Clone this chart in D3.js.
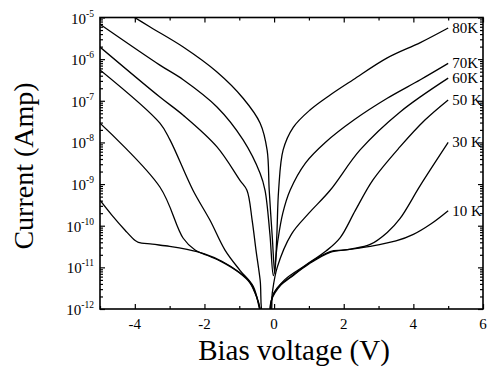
<html>
<head>
<style>
  body { margin: 0; background: #fff; }
  text { font-family: "Liberation Serif", "Times New Roman", serif; fill: #000; }
</style>
</head>
<body>
<svg id="chart"></svg>
<script src="https://cdn.jsdelivr.net/npm/d3@7"></script>
<script>

// bias voltage (V) and current (A) for each temperature
let v80 = [-4.2, -3.56, -2.61, -1.64, -0.89, -0.40, -0.20, -0.14, -0.05, 0.02, 0.08, 0.13, 0.26, 0.55, 1.03, 1.61, 2.27, 3.25, 4.2, 5.0];
let i80 = [1.26e-5, 5.9e-6, 1.95e-6, 4.9e-7, 1.15e-7, 2.9e-8, 6.5e-9, 7.1e-10, 5.0e-11, 7.1e-12, 6.3e-11, 7.1e-10, 6.6e-9, 2.3e-8, 6.0e-8, 1.38e-7, 3.2e-7, 1.07e-6, 2.5e-6, 5.6e-6];

let v70 = [-5.0, -3.28, -2.61, -1.64, -0.89, -0.40, -0.26, -0.12, -0.02, 0.10, 0.25, 0.46, 0.9, 1.47, 2.3, 3.25, 4.2, 5.0];
let i70 = [6.9e-6, 7.2e-7, 3.2e-7, 7.1e-8, 1.15e-8, 1.8e-9, 7.1e-10, 6.3e-11, 6.3e-12, 4.0e-11, 2.0e-10, 7.1e-10, 3.2e-9, 1.0e-8, 3.5e-8, 1.15e-7, 3.2e-7, 7.9e-7];

let v60 = [-5.0, -3.28, -2.61, -1.64, -0.98, -0.78, -0.63, -0.52, -0.40, -0.30, -0.12, -0.05, 0.09, 0.5, 1.0, 1.61, 2.47, 3.62, 5.0];
let i60 = [1.95e-6, 1.23e-7, 4.5e-8, 7.8e-9, 1.23e-9, 7.1e-10, 1.35e-10, 2.6e-11, 4.9e-12, 6.3e-13, 6.3e-13, 2.5e-12, 1.0e-11, 6.3e-11, 2.0e-10, 7.1e-10, 6.6e-9, 5.4e-8, 3.5e-7];

let v50 = [-5.0, -3.28, -2.99, -2.33, -1.84, -1.41, -0.98, -0.6, -0.42, -0.32, -0.15, -0.05, 0.3, 0.9, 1.5, 1.9, 2.33, 2.84, 3.62, 4.34, 5.0];
let i50 = [5.5e-7, 2.9e-8, 1.15e-8, 7.1e-10, 1.35e-10, 2.6e-11, 8.5e-12, 3.5e-12, 1.0e-12, 4.0e-13, 4.0e-13, 2.0e-12, 5.0e-12, 1.12e-11, 2.5e-11, 5.2e-11, 2.3e-10, 1.26e-9, 7.9e-9, 3.5e-8, 1.05e-7];

let v30 = [-5.0, -3.28, -2.61, -2.27, -1.93, -1.5, -1.0, -0.7, -0.5, -0.38, -0.32, -0.17, -0.08, 0.2, 0.46, 1.0, 1.61, 2.2, 2.76, 3.25, 3.62, 4.2, 5.0];
let i30 = [2.9e-8, 8.5e-10, 5.0e-11, 2.6e-11, 1.95e-11, 1.35e-11, 7.4e-12, 4.3e-12, 1.9e-12, 7.9e-13, 3.2e-13, 4.0e-13, 1.6e-12, 3.8e-12, 5.6e-12, 1.2e-11, 2.3e-11, 2.75e-11, 3.55e-11, 6.9e-11, 1.5e-10, 9.3e-10, 1.0e-8];

let v10 = [-5.0, -4.66, -4.28, -3.99, -3.9, -3.5, -3.0, -2.5, -2.0, -1.5, -1.0, -0.7, -0.5, -0.4, -0.34, -0.16, -0.1, 0.0, 0.2, 0.46, 1.0, 1.61, 2.0, 2.76, 3.5, 4.0, 4.5, 5.0];
let i10 = [4.1e-10, 1.8e-10, 7.8e-11, 4.4e-11, 4.0e-11, 3.6e-11, 3.2e-11, 2.7e-11, 2.1e-11, 1.4e-11, 7.6e-12, 4.5e-12, 2.0e-12, 1.0e-12, 4.0e-13, 4.0e-13, 1.26e-12, 2.5e-12, 4.0e-12, 5.8e-12, 1.26e-11, 2.4e-11, 2.6e-11, 3.2e-11, 4.3e-11, 6.2e-11, 1.1e-10, 2.3e-10];

let curveNames = ["80K", "70K", "60K", "50 K", "30 K", "10 K"];
let curveV = [v80, v70, v60, v50, v30, v10];
let curveI = [i80, i70, i60, i50, i30, i10];

let xTicks = [-4, -2, 0, 2, 4, 6];
let xMinor = [-5, -3, -1, 1, 3, 5];
let yExponents = [-12, -11, -10, -9, -8, -7, -6, -5];

let width = 488, height = 368;
let pLeft = 100, pRight = 483, pTop = 17.5, pBottom = 309;

let svg = d3.select("#chart")
            .attr("width", width)
            .attr("height", height);

let x = d3.scaleLinear().domain([-5, 6]).range([pLeft, pRight]);
let y = d3.scaleLog().domain([1e-12, 1e-5]).range([pBottom, pTop]);

svg.append("clipPath").attr("id", "plot")
    .append("rect")
    .attr("x", pLeft).attr("y", pTop)
    .attr("width", pRight - pLeft).attr("height", pBottom - pTop);

let line = d3.line()
            .x(d => x(d[0]))
            .y(d => y(d[1]))
            .curve(d3.curveCatmullRom.alpha(0.5));

let g = svg.append("g").attr("clip-path", "url(#plot)");

curveV.forEach((vs, k) => {
    let pts = vs.map((v, j) => [v, curveI[k][j]]);
    g.append("path")
        .attr("d", line(pts))
        .attr("fill", "none")
        .attr("stroke", "black")
        .attr("stroke-width", 1.3);
});

// temperature labels at the right end of each curve
curveV.forEach((vs, k) => {
    let last = vs.length - 1;
    svg.append("text")
        .attr("x", x(vs[last]) + 4)
        .attr("y", y(curveI[k][last]) + 5)
        .attr("font-size", 15)
        .text(curveNames[k]);
});

// axes: all four sides with inward ticks
let minorY = [];
yExponents.slice(0, -1).forEach(e => {
    for (let m = 2; m <= 9; m++) minorY.push(m * Math.pow(10, e));
});

let axL = d3.axisRight(y).tickValues(yExponents.map(e => Math.pow(10, e))).tickSize(5).tickFormat("");
let axLm = d3.axisRight(y).tickValues(minorY).tickSize(3).tickFormat("");
let axR = d3.axisLeft(y).tickValues(yExponents.map(e => Math.pow(10, e))).tickSize(5).tickFormat("");
let axRm = d3.axisLeft(y).tickValues(minorY).tickSize(3).tickFormat("");
let axB = d3.axisTop(x).tickValues(xTicks).tickSize(5).tickFormat("");
let axBm = d3.axisTop(x).tickValues(xMinor).tickSize(3).tickFormat("");
let axT = d3.axisBottom(x).tickValues(xTicks).tickSize(5).tickFormat("");
let axTm = d3.axisBottom(x).tickValues(xMinor).tickSize(3).tickFormat("");

[[axL, `translate(${pLeft},0)`], [axLm, `translate(${pLeft},0)`],
 [axR, `translate(${pRight},0)`], [axRm, `translate(${pRight},0)`],
 [axB, `translate(0,${pBottom})`], [axBm, `translate(0,${pBottom})`],
 [axT, `translate(0,${pTop})`], [axTm, `translate(0,${pTop})`]].forEach(a => {
    let ax = svg.append("g").attr("transform", a[1]).call(a[0]);
    ax.select(".domain").remove();
    ax.selectAll("line").attr("stroke", "black").attr("stroke-width", 1.2);
});

svg.append("rect")
    .attr("x", pLeft).attr("y", pTop)
    .attr("width", pRight - pLeft).attr("height", pBottom - pTop)
    .attr("fill", "none")
    .attr("stroke", "black")
    .attr("stroke-width", 1.6);

// tick labels
yExponents.forEach(e => {
    let t = svg.append("text")
        .attr("x", 94)
        .attr("y", y(Math.pow(10, e)) + 6)
        .attr("text-anchor", "end")
        .attr("font-size", 15);
    t.append("tspan").text("10");
    t.append("tspan").attr("dy", -7).attr("font-size", 9.5).text(e);
});

xTicks.forEach(v => {
    svg.append("text")
        .attr("x", x(v))
        .attr("y", 329)
        .attr("text-anchor", "middle")
        .attr("font-size", 15)
        .text(v);
});

// axis titles
svg.append("text")
    .attr("x", 294)
    .attr("y", 360)
    .attr("text-anchor", "middle")
    .attr("font-size", 29)
    .text("Bias voltage (V)");

svg.append("text")
    .attr("transform", "translate(33,166) rotate(-90)")
    .attr("text-anchor", "middle")
    .attr("font-size", 28)
    .text("Current (Amp)");

</script>
</body>
</html>
